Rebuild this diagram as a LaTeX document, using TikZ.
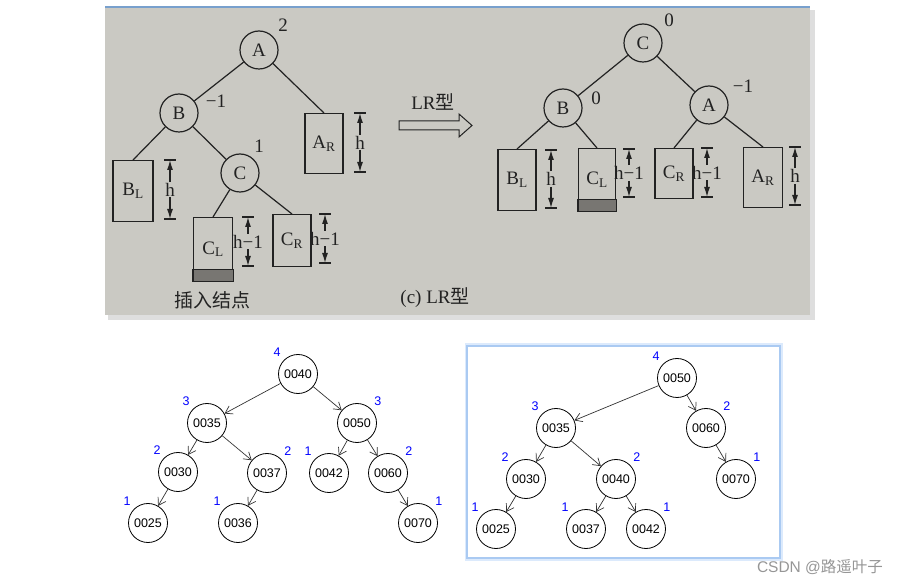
\documentclass[tikz,border=0pt]{standalone}
\usepackage{fontspec}
\setmainfont{Liberation Serif}
\newfontfamily\cjk{Noto Sans CJK SC}
\newfontfamily\arial{Liberation Sans}
\usetikzlibrary{arrows.meta, positioning, calc}

\definecolor{photobg}{RGB}{202,201,195}
\definecolor{photoshade}{RGB}{222,222,222}
\definecolor{photoedge}{RGB}{120,160,205}
\definecolor{inkgray}{RGB}{34,34,34}
\definecolor{barfill}{RGB}{120,118,114}
\definecolor{glowout}{RGB}{220,234,252}
\definecolor{glowin}{RGB}{170,202,242}
\definecolor{markgray}{RGB}{150,150,150}

\newcommand{\bookfont}{\fontsize{19}{22}\selectfont}
\newcommand{\treefont}{\arial\fontsize{12.5}{14}\selectfont}

% height marker: name, x, top y, bottom y, text
\newcommand{\heightmark}[5]{%
  \coordinate (#1t) at (#2,#3);
  \coordinate (#1b) at (#2,#4);
  \node[hlab] (#1) at ($(#1t)!0.5!(#1b)$) {#5};
  \draw[hline] (#1) -- (#1t);
  \draw[hline] (#1) -- (#1b);
  \draw[ink] ([xshift=-6pt]#1t) -- ([xshift=6pt]#1t);
  \draw[ink] ([xshift=-6pt]#1b) -- ([xshift=6pt]#1b);
}

\begin{document}
\begin{tikzpicture}[
    x=1pt, y=-1pt,
    ink/.style={draw=inkgray, line width=1.2pt},
    letter/.style={circle, draw=inkgray, line width=1.2pt, minimum size=38pt, inner sep=0pt, text=inkgray, font=\bookfont},
    subtree/.style 2 args={rectangle, draw=inkgray, line width=1.2pt, minimum width=#1, minimum height=#2, inner sep=0pt, anchor=north, text=inkgray, font=\bookfont},
    factor/.style={text=inkgray, font=\bookfont, inner sep=0pt},
    hlab/.style={text=inkgray, font=\bookfont, inner sep=1pt},
    hline/.style={draw=inkgray, line width=1.2pt, -{Latex[length=10pt,width=6pt]}},
    bnode/.style={circle, draw=black, line width=0.8pt, minimum size=39pt, inner sep=0pt, font=\treefont},
    bal/.style={text=blue, font=\treefont, inner sep=1pt},
    tarrow/.style={draw=black!80, line width=0.7pt, -{Straight Barb[length=7pt,width=9pt]}},
]
    % page
    \fill[white] (0,0) rectangle (903,585);
    \useasboundingbox (0,0) rectangle (903,585);

    % photo of the book figure
    \fill[photoshade] (108,10) rectangle (815,320);
    \fill[photobg] (105,7) rectangle (810,315);
    \draw[photoedge, line width=1.2pt] (105,7) -- (810,7);

    % before rotation
    \node[letter] (lA) at (259,50) {A};
    \node[letter] (lB) at (179,113) {B};
    \node[letter] (lC) at (240,173) {C};
    \node[subtree={38pt}{60pt}] (lAR) at (324,113) {A\textsubscript{R}};
    \node[subtree={40pt}{61pt}] (lBL) at (133,160) {B\textsubscript{L}};
    \node[subtree={39pt}{63pt}] (lCL) at (213,217) {C\textsubscript{L}\\[6pt]};
    \node[subtree={38pt}{52pt}] (lCR) at (292,214) {C\textsubscript{R}};
    \fill[barfill, draw=inkgray, line width=1.2pt] ([yshift=12pt]lCL.south west) rectangle (lCL.south east);

    \draw[ink] (lA) -- (lB);
    \draw[ink] (lA) -- (lAR.north);
    \draw[ink] (lB) -- (lBL.north);
    \draw[ink] (lB) -- (lC);
    \draw[ink] (lC) -- (lCL.north);
    \draw[ink] (lC) -- (lCR.north);

    \node[factor] (flA) at (283,25) {2};
    \node[factor] (flB) at (216,101) {−1};
    \node[factor] (flC) at (259,146) {1};

    \heightmark{hlAR}{360}{113}{172}{h}
    \heightmark{hlBL}{170}{160}{219}{h}
    \heightmark{hlCL}{248}{217}{266}{h−1}
    \heightmark{hlCR}{325}{214}{263}{h−1}

    \node[factor] (insert) at (212,300) {\cjk 插入结点};
    \node[factor] (caption) at (435,298) {(c) LR{\cjk 型}};

    % rotation arrow
    \draw[ink, line width=1pt] (399,121) -- (459,121) -- (459,114) -- (472,125.5)
        -- (459,137) -- (459,130) -- (399,130) -- cycle;
    \node[factor] (lrtext) at (433,102) {LR{\cjk 型}};

    % after rotation
    \node[letter] (rC) at (643,43) {C};
    \node[letter] (rB) at (563,108) {B};
    \node[letter] (rA) at (709,105) {A};
    \node[subtree={38pt}{61pt}] (rBL) at (517,149) {B\textsubscript{L}};
    \node[subtree={37pt}{62pt}] (rCL) at (597,148) {C\textsubscript{L}\\[6pt]};
    \node[subtree={38pt}{50pt}] (rCR) at (674,148) {C\textsubscript{R}};
    \node[subtree={39pt}{60pt}] (rAR) at (763,147) {A\textsubscript{R}};
    \fill[barfill, draw=inkgray, line width=1.2pt] ([yshift=12pt]rCL.south west) rectangle (rCL.south east);

    \draw[ink] (rC) -- (rB);
    \draw[ink] (rC) -- (rA);
    \draw[ink] (rB) -- (rBL.north);
    \draw[ink] (rB) -- (rCL.north);
    \draw[ink] (rA) -- (rCR.north);
    \draw[ink] (rA) -- (rAR.north);

    \node[factor] (frC) at (669,20) {0};
    \node[factor] (frB) at (596,98) {0};
    \node[factor] (frA) at (743,86) {−1};

    \heightmark{hrBL}{551}{150}{208}{h}
    \heightmark{hrCL}{629}{149}{197}{h−1}
    \heightmark{hrCR}{707}{148}{197}{h−1}
    \heightmark{hrAR}{795}{147}{205}{h}

    % left tree: after inserting
    \node[bnode, label={[bal, label distance=3pt]135:4}] (a40) at (298,374) {0040};
    \node[bnode, label={[bal, label distance=3pt]135:3}] (a35) at (207,423) {0035};
    \node[bnode, label={[bal, label distance=3pt]45:3}] (a50) at (357,423) {0050};
    \node[bnode, label={[bal, label distance=3pt]135:2}] (a30) at (178,472) {0030};
    \node[bnode, label={[bal, label distance=3pt]45:2}] (a37) at (267,473) {0037};
    \node[bnode, label={[bal, label distance=3pt]135:1}] (a42) at (329,473) {0042};
    \node[bnode, label={[bal, label distance=3pt]45:2}] (a60) at (388,473) {0060};
    \node[bnode, label={[bal, label distance=3pt]135:1}] (a25) at (148,523) {0025};
    \node[bnode, label={[bal, label distance=3pt]135:1}] (a36) at (238,523) {0036};
    \node[bnode, label={[bal, label distance=3pt]45:1}] (a70) at (418,523) {0070};

    \draw[tarrow] (a40) -- (a35);
    \draw[tarrow] (a40) -- (a50);
    \draw[tarrow] (a35) -- (a30);
    \draw[tarrow] (a35) -- (a37);
    \draw[tarrow] (a50) -- (a42);
    \draw[tarrow] (a50) -- (a60);
    \draw[tarrow] (a30) -- (a25);
    \draw[tarrow] (a37) -- (a36);
    \draw[tarrow] (a60) -- (a70);

    % right tree: after rotation, in a framed panel
    \draw[glowout, line width=5pt] (467,346) rectangle (780,558);
    \draw[glowin, line width=1.3pt, fill=white] (467,346) rectangle (780,558);

    \node[bnode, label={[bal, label distance=3pt]135:4}] (b50) at (677,378) {0050};
    \node[bnode, label={[bal, label distance=3pt]135:3}] (b35) at (556,428) {0035};
    \node[bnode, label={[bal, label distance=3pt]45:2}] (b60) at (706,428) {0060};
    \node[bnode, label={[bal, label distance=3pt]135:2}] (b30) at (526,479) {0030};
    \node[bnode, label={[bal, label distance=3pt]45:2}] (b40) at (616,479) {0040};
    \node[bnode, label={[bal, label distance=3pt]45:1}] (b70) at (736,479) {0070};
    \node[bnode, label={[bal, label distance=3pt]135:1}] (b25) at (496,529) {0025};
    \node[bnode, label={[bal, label distance=3pt]135:1}] (b37) at (586,529) {0037};
    \node[bnode, label={[bal, label distance=3pt]45:1}] (b42) at (646,529) {0042};

    \draw[tarrow] (b50) -- (b35);
    \draw[tarrow] (b50) -- (b60);
    \draw[tarrow] (b35) -- (b30);
    \draw[tarrow] (b35) -- (b40);
    \draw[tarrow] (b60) -- (b70);
    \draw[tarrow] (b30) -- (b25);
    \draw[tarrow] (b40) -- (b37);
    \draw[tarrow] (b40) -- (b42);

    % watermark
    \node[text=markgray, font=\arial\fontsize{15.5}{17}\selectfont, inner sep=0pt] (mark) at (820,567) {CSDN @{\cjk 路遥叶子}};
\end{tikzpicture}
\end{document}
